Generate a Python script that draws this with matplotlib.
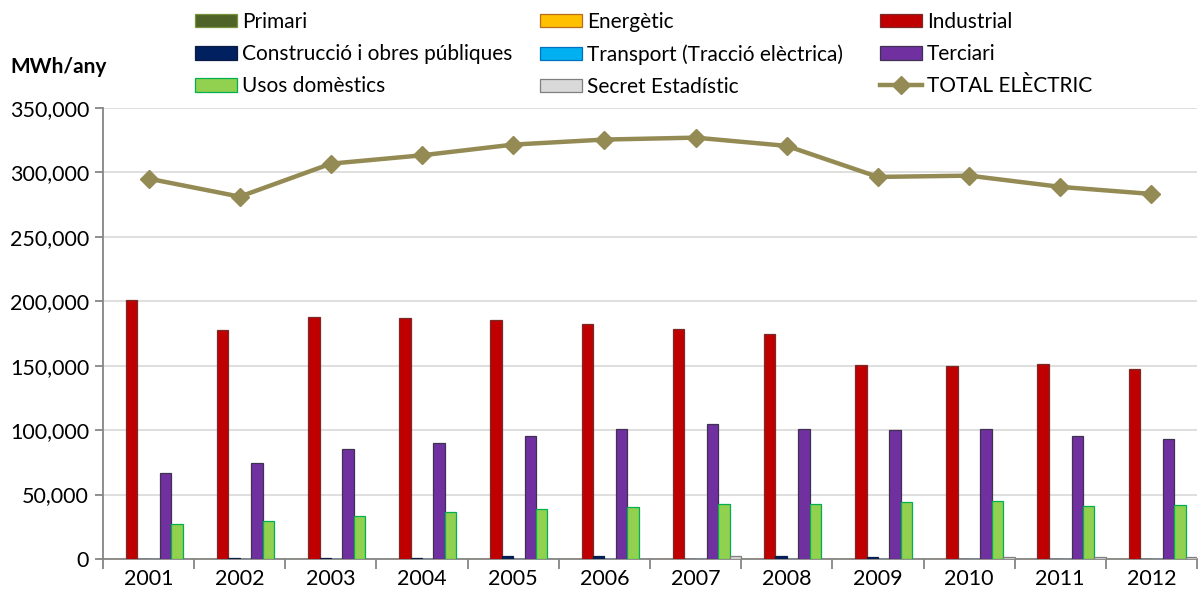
import numpy as np
import matplotlib.pyplot as plt
from matplotlib.ticker import FuncFormatter, MultipleLocator

plt.rcParams['font.family'] = ['Lato', 'DejaVu Sans']

# Data (MWh/any)
years = ['2001', '2002', '2003', '2004', '2005', '2006',
         '2007', '2008', '2009', '2010', '2011', '2012']
primari = [150, 150, 150, 150, 150, 150, 150, 150, 150, 150, 150, 150]
energetic = [0, 0, 0, 0, 0, 0, 0, 0, 0, 0, 0, 0]
industrial = [201000, 177700, 187800, 187200, 185300, 182600,
              178600, 175000, 150800, 149800, 151700, 147800]
construccio = [300, 500, 400, 800, 2600, 2000, 300, 2300, 1800, 300, 300, 300]
transport = [0, 0, 0, 0, 0, 0, 0, 0, 0, 0, 0, 0]
terciari = [66700, 74300, 85400, 89800, 95800, 100800,
            105000, 101000, 99900, 101000, 95300, 93000]
usos = [27400, 29200, 33600, 36200, 38600, 40000,
        42300, 42700, 44500, 45300, 41400, 41700]
secret = [300, 300, 300, 300, 300, 300, 2000, 300, 300, 1600, 1500, 1500]
total = [295200, 281200, 306800, 313300, 321600, 325500,
         327000, 320600, 296500, 297500, 288800, 283300]

series = [
    ('Primari', primari, '#4f6228', '#77933c'),
    ('Energètic', energetic, '#ffc000', '#b86a1d'),
    ('Industrial', industrial, '#c00000', '#7a2a28'),
    ('Construcció i obres públiques', construccio, '#002060', '#0b1d45'),
    ('Transport (Tracció elèctrica)', transport, '#00b0f0', '#0070c0'),
    ('Terciari', terciari, '#7030a0', '#403151'),
    ('Usos domèstics', usos, '#92d050', '#00b050'),
    ('Secret Estadístic', secret, '#d9d9d9', '#7f7f7f'),
]

fig = plt.figure(figsize=(12.02, 6.02), dpi=100)
ax = fig.add_axes([103 / 1202, 1 - 559 / 602, 1094 / 1202, 451 / 602])

x = np.arange(len(years))
w = 0.125
handles = {}
for i, (name, vals, fc, ec) in enumerate(series):
    h = ax.bar(x + (i - 3.5) * w, vals, width=w, color=fc, edgecolor=ec,
               linewidth=0.9, label=name, zorder=3)
    handles[name] = h

line, = ax.plot(x, total, color='#948a54', linewidth=3.2, marker='D',
                markersize=9, label='TOTAL ELÈCTRIC', zorder=4)
handles['TOTAL ELÈCTRIC'] = line

ax.set_xlim(-0.5, len(years) - 0.5)
ax.set_ylim(0, 350000)
ax.yaxis.set_major_locator(MultipleLocator(50000))
ax.yaxis.set_major_formatter(FuncFormatter(lambda v, p: f'{int(v):,}'))
ax.grid(axis='y', color='#d9d9d9', linewidth=1.2, zorder=0)
ax.set_axisbelow(True)

ax.set_xticks(x)
ax.set_xticklabels(years)
ax.set_xticks(np.arange(len(years) + 1) - 0.5, minor=True)
ax.tick_params(axis='x', which='major', length=0, labelsize=15.5, pad=7,
               labelcolor='black')
ax.tick_params(axis='x', which='minor', length=7, width=1.3, color='#868686',
               direction='out')
ax.tick_params(axis='y', length=6, width=1.3, color='#868686', labelsize=15.5,
               pad=4)

for s in ['top', 'right']:
    ax.spines[s].set_visible(False)
for s in ['left', 'bottom']:
    ax.spines[s].set_color('#868686')
    ax.spines[s].set_linewidth(1.3)

fig.text(10 / 1202, 1 - 67 / 602, 'MWh/any', fontsize=15, fontweight='bold',
         va='center', ha='left')

# Legend in three columns placed like the original
cols = [
    (195, ['Primari', 'Construcció i obres públiques', 'Usos domèstics']),
    (540, ['Energètic', 'Transport (Tracció elèctrica)', 'Secret Estadístic']),
    (880, ['Industrial', 'Terciari', 'TOTAL ELÈCTRIC']),
]
for xpos, names in cols:
    leg = fig.legend([handles[n] for n in names], names,
                     loc='upper left', bbox_to_anchor=(xpos / 1202, 1 - 12 / 602),
                     frameon=False, fontsize=15, handlelength=2.0,
                     handleheight=0.63, handletextpad=0.25, labelspacing=0.58,
                     borderpad=0, borderaxespad=0)

fig.savefig('out.png', dpi=100)
